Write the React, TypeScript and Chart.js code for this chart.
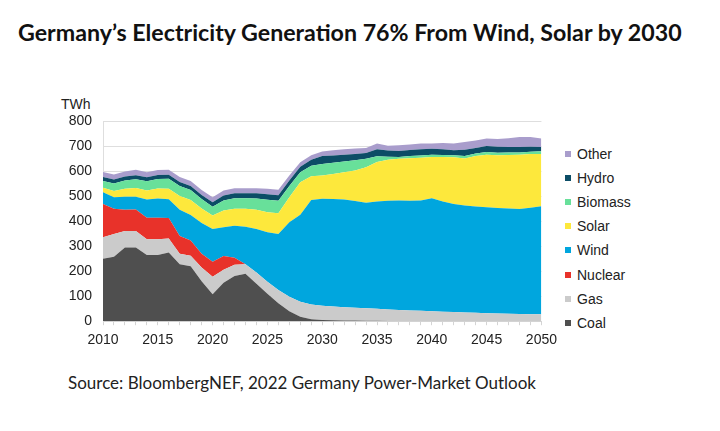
import React, { useEffect, useRef } from 'react';
import { Chart, registerables } from 'chart.js';
Chart.register(...registerables);

const years = [
  '2010','2011','2012','2013','2014','2015','2016','2017','2018','2019',
  '2020','2021','2022','2023','2024','2025','2026','2027','2028','2029',
  '2030','2031','2032','2033','2034','2035','2036','2037','2038','2039',
  '2040','2041','2042','2043','2044','2045','2046','2047','2048','2049','2050'
];

const coal = [250,258,295,295,265,265,275,228,220,160, 108,154,181,190,150,110,72,40,18,8, 5,4,3,3,2,2,1,0,0,0, 0,0,0,0,0,0,0,0,0,0, 0];
const gas = [85,90,65,65,62,62,55,42,42,55, 70,52,45,38,45,48,53,58,60,59, 57,55,53,51,50,48,46,45,43,42, 40,38,37,35,34,32,31,30,29,28, 28];
const nuclear = [133,101,85,86,86,86,82,70,60,55, 60,55,28,0,0,0,0,0,0,0, 0,0,0,0,0,0,0,0,0,0, 0,0,0,0,0,0,0,0,0,0, 0];
const wind = [47,46,52,51,73,77,75,105,102,122, 130,114,127,149,173,197,223,297,347,417, 427,429,430,426,421,428,434,437,438,440, 451,440,431,427,424,423,421,420,419,425, 431];
const solar = [18,25,32,35,36,40,42,55,60,58, 54,67,68,72,77,80,83,100,130,95, 93,100,109,122,142,158,164,167,170,171, 165,178,187,188,202,210,211,214,217,215, 209];
const biomass = [27,30,33,35,37,38,40,40,40,38, 35,40,42,42,45,50,50,45,40,42, 46,45,43,41,34,23,12,7,9,9, 9,8,8,10,10,11,10,10,9,9, 11];
const hydro = [16,16,16,16,16,16,16,16,16,16, 18,20,20,20,21,22,22,22,22,24, 32,29,27,25,23,28,25,24,24,25, 24,23,20,25,22,24,24,22,22,20, 17];
const other = [20,20,20,22,20,20,20,20,20,20, 20,20,20,20,20,22,22,20,18,18, 18,21,22,22,20,23,19,23,22,23, 21,25,27,31,30,30,31,35,40,39, 34];

const seriesNames = ['Coal', 'Gas', 'Nuclear', 'Wind', 'Solar', 'Biomass', 'Hydro', 'Other'];
const seriesColors = ['#4f4f4f', '#cbcbcb', '#e8322a', '#00a6de', '#fde83c', '#68e09a', '#0c4d66', '#a99dcc'];
const seriesValues = [coal, gas, nuclear, wind, solar, biomass, hydro, other];

const yTicks = [0, 100, 200, 300, 400, 500, 600, 700, 800];

const FONT = "'Liberation Sans', Arial, sans-serif";

export default function App() {
  const canvasRef = useRef<HTMLCanvasElement | null>(null);

  useEffect(() => {
    document.body.style.margin = '0';
    const canvas = canvasRef.current;
    if (!canvas) return;
    const chart = new Chart(canvas, {
      type: 'line',
      data: {
        labels: years,
        datasets: seriesNames.map((name, i) => ({
          label: name,
          data: seriesValues[i],
          backgroundColor: seriesColors[i],
          borderColor: seriesColors[i],
          borderWidth: 0,
          pointRadius: 0,
          tension: 0,
          fill: i === 0 ? 'origin' : '-1',
        })),
      },
      options: {
        animation: false,
        responsive: false,
        layout: { padding: { top: 26, bottom: 2, left: 0, right: 0 } },
        plugins: { legend: { display: false }, tooltip: { enabled: false } },
        scales: {
          x: {
            type: 'category',
            grid: { drawOnChartArea: false, drawTicks: true, tickLength: 4, color: '#d4d4d4' },
            border: { color: '#d4d4d4' },
            ticks: {
              autoSkip: false,
              maxRotation: 0,
              padding: 7,
              color: '#222',
              font: { family: FONT, size: 14 },
              callback: (_v: any, idx: number) => (Number(years[idx]) % 5 === 0 ? years[idx] : ''),
            },
          },
          y: {
            stacked: true,
            min: 0,
            max: 800,
            afterFit: (scale: any) => { scale.width = 103; },
            afterBuildTicks: (scale: any) => { scale.ticks = yTicks.map((v) => ({ value: v })); },
            grid: { drawTicks: false, color: '#dedede' },
            border: { display: true, color: '#dedede' },
            ticks: {
              padding: 11,
              color: '#222',
              font: { family: FONT, size: 14 },
            },
          },
        },
      },
    });
    return () => chart.destroy();
  }, []);

  const legendItems = seriesNames.map((n, i) => ({ name: n, color: seriesColors[i] })).reverse();

  return (
    <div style={{ position: 'relative', width: 720, height: 431, background: '#fff', overflow: 'hidden' }}>
      <div style={{ position: 'absolute', left: 18, top: 18, fontFamily: 'Lato, sans-serif', fontWeight: 700, fontSize: 23.2, lineHeight: '28px', color: '#111', whiteSpace: 'nowrap' }}>
        Germany’s Electricity Generation 76% From Wind, Solar by 2030
      </div>
      <div style={{ position: 'absolute', left: 61, top: 96, fontFamily: FONT, fontSize: 14, lineHeight: '16px', color: '#222' }}>TWh</div>
      <canvas ref={canvasRef} width={564} height={263} style={{ position: 'absolute', left: 0, top: 95, width: 564, height: 263 }} />
      {legendItems.map((it, k) => (
        <div key={it.name} style={{ position: 'absolute', left: 565, top: 154 + k * 24.1 - 8, height: 16, display: 'flex', alignItems: 'center', fontFamily: FONT, fontSize: 14, color: '#222', whiteSpace: 'nowrap' }}>
          <span style={{ display: 'inline-block', width: 6, height: 6, background: it.color, marginRight: 6 }} />
          {it.name}
        </div>
      ))}
      <div style={{ position: 'absolute', left: 68, top: 373, fontFamily: 'Lato, sans-serif', fontSize: 17, lineHeight: '20px', color: '#222', whiteSpace: 'nowrap' }}>
        Source: BloombergNEF, 2022 Germany Power-Market Outlook
      </div>
    </div>
  );
}
